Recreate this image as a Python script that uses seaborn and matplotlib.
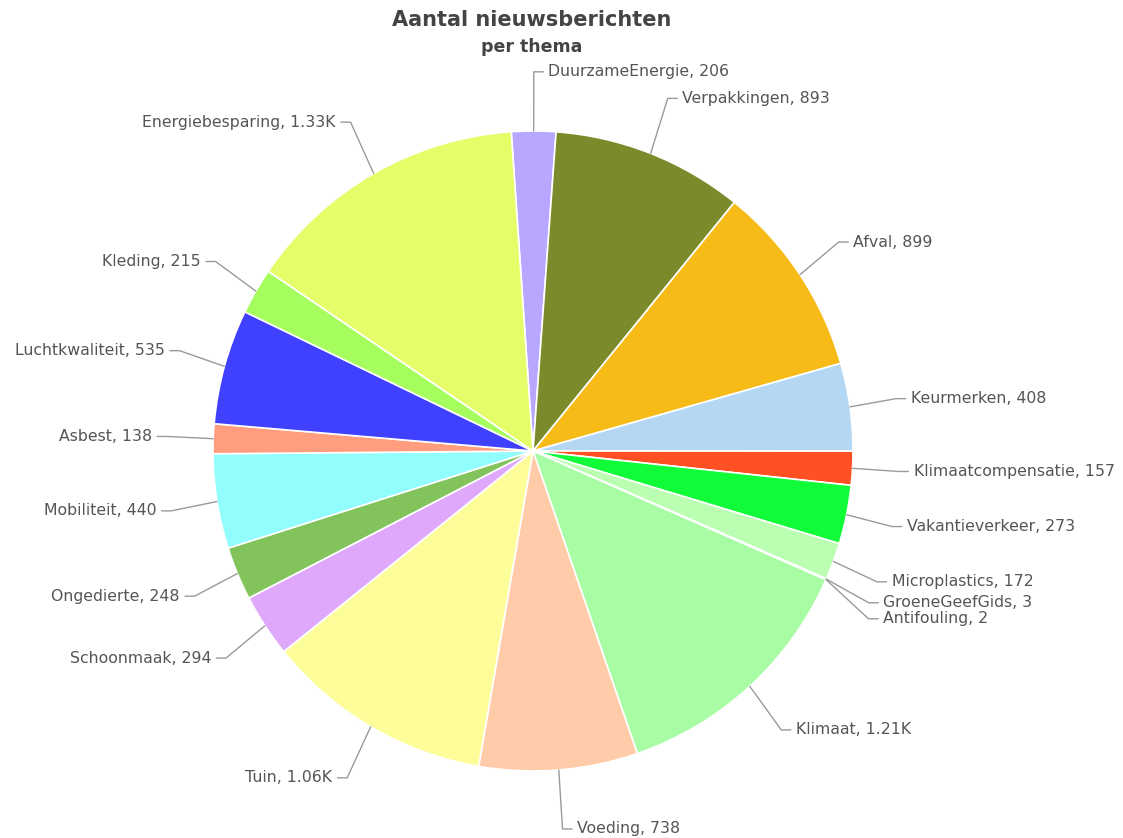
import numpy as np
import matplotlib
matplotlib.use("Agg")
import matplotlib.pyplot as plt
import seaborn as sns

themes = ["DuurzameEnergie", "Verpakkingen", "Afval", "Keurmerken", "Klimaatcompensatie",
          "Vakantieverkeer", "Microplastics", "GroeneGeefGids", "Antifouling", "Klimaat",
          "Voeding", "Tuin", "Schoonmaak", "Ongedierte", "Mobiliteit", "Asbest",
          "Luchtkwaliteit", "Kleding", "Energiebesparing"]
counts = [206, 893, 899, 408, 157, 273, 172, 3, 2, 1210, 738, 1060, 294, 248, 440, 138,
          535, 215, 1330]
colors = ["#b9a6ff", "#7b8a2b", "#f6bb16", "#b4d8f4", "#ff5024", "#10fb38", "#bbffb2",
          "#c8ffc0", "#d8ffd0", "#a8fda4", "#ffcba8", "#fdfd9a", "#dfa8fb", "#82c35c",
          "#91fdfd", "#ff9d7e", "#4040ff", "#a5fd5e", "#e5fd68"]

title = "Aantal nieuwsberichten"
subtitle = "per thema"

sns.set_theme(style="white")
plt.rcParams['font.family'] = ['DejaVu Sans']

W, H = 1123, 838
fig = plt.figure(figsize=(W / 100, H / 100), dpi=100)
cx, cy, R = 533, 451, 320
ax = fig.add_axes([(cx - R) / W, (H - cy - R) / H, 2 * R / W, 2 * R / H])

start = 93.9
wedges, _ = ax.pie(counts, colors=colors, startangle=start, counterclock=False, radius=1.0,
                   wedgeprops=dict(edgecolor="white", linewidth=1.2))
ax.set_xlim(-1, 1)
ax.set_ylim(-1, 1)
ax.axis("off")


def fmt(v):
    return f"{v/1000:.2f}K" if v >= 1000 else f"{v}"


total = sum(counts)
items = []
cum = 0
for name, v in zip(themes, counts):
    mid = np.deg2rad(start) - 2 * np.pi * (cum + v / 2) / total
    cum += v
    items.append(dict(name=name, v=v, a=mid))

for it in items:
    it["ex"] = 1.145 * np.cos(it["a"])
    it["ey"] = 1.185 * np.sin(it["a"])
    it["side"] = 1 if np.cos(it["a"]) >= -1e-6 else -1

gap = 0.05
for side in (1, -1):
    grp = [it for it in items if it["side"] == side]
    grp.sort(key=lambda d: -d["ey"])
    for i in range(1, len(grp)):
        if grp[i - 1]["ey"] - grp[i]["ey"] < gap:
            grp[i]["ey"] = grp[i - 1]["ey"] - gap

lc = "#9a9a9a"
for it in items:
    x0, y0 = np.cos(it["a"]), np.sin(it["a"])
    ex, ey, s = it["ex"], it["ey"], it["side"]
    hx = ex + s * 0.03
    ax.plot([x0, ex, hx], [y0, ey, ey], color=lc, lw=1.0, clip_on=False)
    ax.text(hx + s * 0.016, ey, f"{it['name']}, {fmt(it['v'])}", ha="left" if s > 0 else "right",
            va="center", fontsize=11.3, color="#555555", clip_on=False)

fig.text(532 / W, 1 - 20 / H, title, ha="center", va="center", fontsize=15,
         fontweight="bold", color="#444444")
fig.text(532 / W, 1 - 47 / H, subtitle, ha="center", va="center", fontsize=12.5,
         fontweight="bold", color="#444444")

fig.savefig("out.png", dpi=100, facecolor="white")
